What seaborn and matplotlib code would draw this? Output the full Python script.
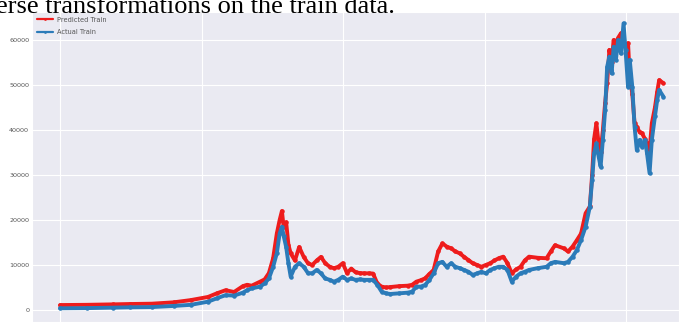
import numpy as np
import pandas as pd
import matplotlib
matplotlib.use("Agg")
import matplotlib.pyplot as plt
import seaborn as sns

# Day index of each reading along the training window
day = [0, 94, 186, 248, 324, 401, 462, 523, 554, 585, 615, 646, 661, 677, 707,
       723, 738, 753, 766, 776, 784, 790, 799, 807, 815, 830, 845, 861, 876, 891,
       907, 922, 937, 953, 968, 983, 999, 1014, 1029, 1044, 1060, 1075, 1090, 1106,
       1121, 1136, 1152, 1167, 1198, 1228, 1244, 1259, 1274, 1290, 1305, 1320, 1336,
       1351, 1366, 1382, 1397, 1412, 1428, 1443, 1458, 1474, 1489, 1504, 1520, 1535,
       1550, 1566, 1581, 1596, 1611, 1627, 1642, 1657, 1688, 1719, 1734, 1749, 1780,
       1795, 1811, 1826, 1841, 1857, 1872, 1880, 1887, 1895, 1903, 1910, 1918, 1926,
       1933, 1941, 1949, 1956, 1964, 1972, 1982, 1991, 1998, 2007, 2013, 2022, 2030,
       2038, 2048, 2056, 2067, 2074, 2083, 2091, 2102, 2110, 2117, 2132]

# Actual closing price (inverse-transformed)
actual = [380, 420, 520, 600, 650, 900, 1150, 1850, 2600, 3300, 3200, 3850, 4400,
          4800, 5200, 5900, 7000, 9600, 12600, 17000, 18500, 16500, 14000, 10400,
          7400, 9600, 10400, 9600, 8200, 8150, 8900, 8150, 7000, 6700, 6300, 6700,
          7400, 6700, 7000, 6700, 6800, 6700, 6700, 6700, 5600, 4100, 3700, 3560,
          3700, 3850, 4070, 5190, 5190, 5560, 6670, 8150, 10400, 10700, 9600, 10400,
          9600, 9300, 8900, 8500, 7800, 8150, 8500, 8150, 8900, 9300, 9600, 9600,
          8900, 6300, 7400, 8150, 8500, 8900, 9300, 9600, 10400, 10700, 10400, 10700,
          11850, 13300, 15560, 18500, 22960, 28900, 34800, 37000, 34100, 31850, 37800,
          44400, 54000, 56300, 52600, 58500, 55600, 60000, 57000, 63700, 57800, 49600,
          55600, 49600, 40700, 35500, 37800, 36300, 37800, 34800, 30400, 37800, 43000,
          46700, 48900, 47400]

# Model prediction on the training window (inverse-transformed)
predicted = [1100, 1150, 1250, 1330, 1400, 1700, 2200, 2900, 3700, 4400, 4000, 5300,
             5600, 5400, 6300, 6800, 8200, 11500, 17000, 20000, 22000, 18500, 19500,
             14500, 12600, 11000, 14000, 11800, 10400, 10000, 11000, 11800, 10400,
             9600, 9300, 9600, 10400, 8200, 9200, 8400, 8200, 8150, 8150, 8100, 5900,
             5200, 5000, 5100, 5300, 5400, 5600, 6300, 6600, 7040, 8000, 8900, 13000,
             14800, 14100, 13700, 13000, 12600, 11800, 11100, 10400, 10000, 9600, 10000,
             10400, 11000, 11500, 11850, 10400, 8150, 9000, 9600, 11000, 11850, 11600,
             11500, 13000, 14400, 13700, 13000, 14100, 15500, 17000, 21500, 23000, 30000,
             38000, 41500, 37000, 35000, 40000, 46000, 50400, 57800, 55000, 60000, 58000,
             60500, 61500, 59300, 58500, 59300, 51800, 48000, 41500, 40700, 39500, 39300,
             38000, 37000, 35500, 41500, 45000, 48500, 51100, 50400]

series_order = ["Predicted Train", "Actual Train"]
series_colors = {"Predicted Train": "#ee1c1c", "Actual Train": "#2b7bb9"}

df = pd.concat([
    pd.DataFrame({"day": day, "price": predicted, "series": "Predicted Train"}),
    pd.DataFrame({"day": day, "price": actual, "series": "Actual Train"}),
])

sns.set_style("darkgrid")
plt.rcParams["font.family"] = ["DejaVu Sans"]

fig = plt.figure(figsize=(6.79, 3.24), dpi=100)
ax = fig.add_axes([32 / 679, 2 / 324, 1 - 32 / 679, 310 / 324])

sns.lineplot(data=df, x="day", y="price", hue="series", hue_order=series_order,
             palette=series_colors, marker=".", markersize=6.5, markeredgewidth=0,
             linewidth=2.8, ax=ax)

ax.set_xlim(-99, 2187)
ax.set_ylim(-2667, 66222)
ax.set_xticks([0, 500, 1000, 1500, 2000])
ax.set_yticks([0, 10000, 20000, 30000, 40000, 50000, 60000])
ax.set_xticklabels([])
ax.set_xlabel("")
ax.set_ylabel("")
ax.tick_params(axis="y", labelsize=4.6, labelcolor="#555555", pad=2, length=0)
ax.tick_params(axis="x", length=0)

leg = ax.legend(loc="upper left", bbox_to_anchor=(0.0, 1.0), frameon=False,
                fontsize=4.8, handlelength=2.4, handletextpad=0.7,
                labelspacing=1.0, borderaxespad=0.3)
for line in leg.get_lines():
    line.set_linewidth(1.6)
    line.set_markersize(4)
for t in leg.get_texts():
    t.set_color("#555555")

# Tail of the caption line sitting just above the figure
fig.text(-0.006, 1 - 13 / 324, "erse transformations on the train data.",
         fontsize=19, family="Liberation Serif", color="black", va="baseline")

fig.savefig("out.png", dpi=100)
